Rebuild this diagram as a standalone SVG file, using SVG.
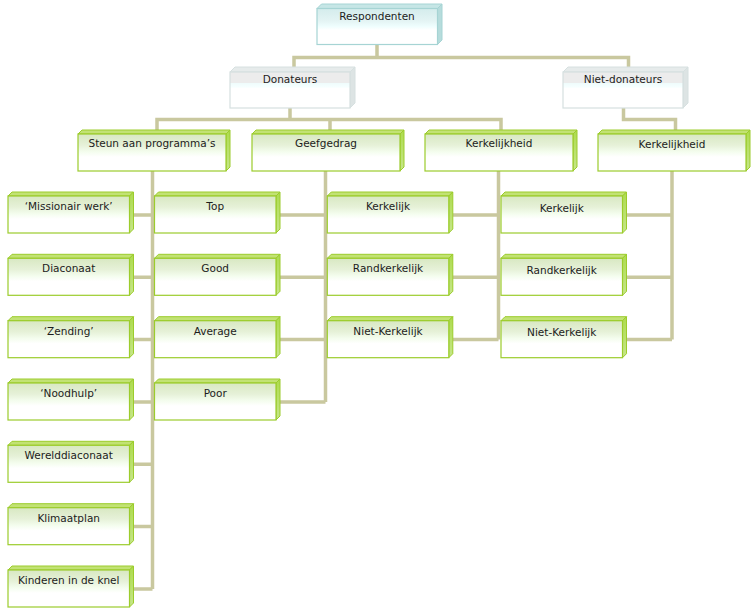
<svg xmlns="http://www.w3.org/2000/svg" xmlns:xlink="http://www.w3.org/1999/xlink" width="755" height="611" viewBox="0 0 755 611">
<style>
text{font-family:"DejaVu Sans","Verdana",sans-serif;font-size:10.5px;fill:#1c1c1c;text-anchor:middle}
.g-f{fill:url(#gfront);stroke:#9ccc2c;stroke-width:1.2}
.g-t{fill:#c2e274;stroke:#9ccc2c;stroke-width:1}
.g-s{fill:url(#gside);stroke:#9ccc2c;stroke-width:1}
.y-f{fill:url(#yfront);stroke:#d6e0e0;stroke-width:1.2}
.y-t{fill:#e6ebeb;stroke:#d6e0e0;stroke-width:1}
.y-s{fill:#dde4e4;stroke:#d6e0e0;stroke-width:1}
.c-f{fill:url(#cfront);stroke:#a6d4d4;stroke-width:1.2}
.c-t{fill:#c6e6e6;stroke:#a6d4d4;stroke-width:1}
.c-s{fill:#b6dcdc;stroke:#a6d4d4;stroke-width:1}
.conn{fill:none;stroke:#c9c89f;stroke-width:3.5;stroke-linejoin:miter}
</style>
<defs>
<linearGradient id="gfront" x1="0" y1="0" x2="0" y2="1">
<stop offset="0" stop-color="#d8e8c2"/>
<stop offset="0.3" stop-color="#e6f1d8"/>
<stop offset="0.48" stop-color="#f4fdee"/>
<stop offset="0.62" stop-color="#ffffff"/>
<stop offset="1" stop-color="#ffffff"/>
</linearGradient>
<linearGradient id="gside" x1="0" y1="0" x2="0" y2="1">
<stop offset="0" stop-color="#addb4e"/>
<stop offset="1" stop-color="#c6e68a"/>
</linearGradient>
<linearGradient id="yfront" x1="0" y1="0" x2="0" y2="1">
<stop offset="0" stop-color="#ececec"/>
<stop offset="0.3" stop-color="#ececec"/>
<stop offset="0.31" stop-color="#effcfc"/>
<stop offset="0.42" stop-color="#f6ffff"/>
<stop offset="0.45" stop-color="#ffffff"/>
<stop offset="1" stop-color="#ffffff"/>
</linearGradient>
<linearGradient id="cfront" x1="0" y1="0" x2="0" y2="1">
<stop offset="0" stop-color="#d4ecec"/>
<stop offset="0.35" stop-color="#e4f4f4"/>
<stop offset="0.5" stop-color="#effefe"/>
<stop offset="0.6" stop-color="#ffffff"/>
<stop offset="1" stop-color="#ffffff"/>
</linearGradient>
<g id="cbox">
<polygon class="g-t" points="0,0 4,-4 125.5,-4 121.5,0"/>
<polygon class="g-s" points="121.5,0 125.5,-4 125.5,33 121.5,37"/>
<rect class="g-f" x="0" y="0" width="121.5" height="37"/>
</g>
<g id="hbox">
<polygon class="g-t" points="0,0 4,-4 152,-4 148,0"/>
<polygon class="g-s" points="148,0 152,-4 152,33 148,37"/>
<rect class="g-f" x="0" y="0" width="148" height="37"/>
</g>
<g id="ybox">
<polygon class="y-t" points="0,0 5,-5 125,-5 120,0"/>
<polygon class="y-s" points="120,0 125,-5 125,31 120,36"/>
<rect class="y-f" x="0" y="0" width="120" height="36"/>
</g>
</defs>

<g id="connectors">
<path class="conn" d="M377,44.5 V57.5 M294,67 V57.5 H628.5 V67"/>
<path class="conn" d="M290,108 V119.5 M157,130 V119.5 H501 V130 M330,119.5 V130"/>
<path class="conn" d="M623.5,108 V119.5 H675.5 V130"/>
<path class="conn" d="M152.5,171 V589 M133,215 H152.5 M133,277.3 H152.5 M133,339.6 H152.5 M133,402 H152.5 M133,464.3 H152.5 M133,526.6 H152.5 M133,589 H152.5"/>
<path class="conn" d="M325.5,171 V402 M280,215 H325.5 M280,277.3 H325.5 M280,339.6 H325.5 M280,402 H325.5"/>
<path class="conn" d="M498.5,171 V339.6 M453,215 H498.5 M453,277.3 H498.5 M453,339.6 H498.5"/>
<path class="conn" d="M672,171 V339.6 M626.5,215 H672 M626.5,277.3 H672 M626.5,339.6 H672"/>
</g>

<g id="n-respondenten">
<polygon class="c-t" points="317,8.5 321.5,4 442,4 437.5,8.5"/>
<polygon class="c-s" points="437.5,8.5 442,4 442,40 437.5,44.5"/>
<rect class="c-f" x="317" y="8.5" width="120.5" height="36"/>
<text x="377" y="20">Respondenten</text>
</g>
<g id="n-donateurs"><use xlink:href="#ybox" transform="translate(230,72)"/><text x="290" y="82.5">Donateurs</text></g>
<g id="n-nietdonateurs"><use xlink:href="#ybox" transform="translate(563,72)"/><text x="623" y="83">Niet-donateurs</text></g>

<g id="n-steun"><use xlink:href="#hbox" transform="translate(78,134)"/><text x="152" y="147">Steun aan programma’s</text></g>
<g id="n-geefgedrag"><use xlink:href="#hbox" transform="translate(252,134)"/><text x="326" y="147">Geefgedrag</text></g>
<g id="n-kerkelijkheid1"><use xlink:href="#hbox" transform="translate(425,134)"/><text x="499" y="147">Kerkelijkheid</text></g>
<g id="n-kerkelijkheid2"><use xlink:href="#hbox" transform="translate(598,134)"/><text x="672" y="148">Kerkelijkheid</text></g>

<g id="n-missionair"><use xlink:href="#cbox" transform="translate(8,196)"/><text x="68.7" y="210">‘Missionair werk’</text></g>
<g id="n-diaconaat"><use xlink:href="#cbox" transform="translate(8,258.3)"/><text x="68.7" y="272.3">Diaconaat</text></g>
<g id="n-zending"><use xlink:href="#cbox" transform="translate(8,320.7)"/><text x="68.7" y="334.7">‘Zending’</text></g>
<g id="n-noodhulp"><use xlink:href="#cbox" transform="translate(8,383)"/><text x="68.7" y="397">‘Noodhulp’</text></g>
<g id="n-werelddiaconaat"><use xlink:href="#cbox" transform="translate(8,445.3)"/><text x="68.7" y="459.3">Werelddiaconaat</text></g>
<g id="n-klimaatplan"><use xlink:href="#cbox" transform="translate(8,507.7)"/><text x="68.7" y="521.7">Klimaatplan</text></g>
<g id="n-kinderen"><use xlink:href="#cbox" transform="translate(8,570)"/><text x="68.7" y="584">Kinderen in de knel</text></g>

<g id="n-top"><use xlink:href="#cbox" transform="translate(154.5,196)"/><text x="215.2" y="210">Top</text></g>
<g id="n-good"><use xlink:href="#cbox" transform="translate(154.5,258.3)"/><text x="215.2" y="272.3">Good</text></g>
<g id="n-average"><use xlink:href="#cbox" transform="translate(154.5,320.7)"/><text x="215.2" y="334.7">Average</text></g>
<g id="n-poor"><use xlink:href="#cbox" transform="translate(154.5,383)"/><text x="215.2" y="397">Poor</text></g>

<g id="n-kerkelijk1"><use xlink:href="#cbox" transform="translate(327.3,196)"/><text x="388" y="210">Kerkelijk</text></g>
<g id="n-randkerkelijk1"><use xlink:href="#cbox" transform="translate(327.3,258.3)"/><text x="388" y="272.3">Randkerkelijk</text></g>
<g id="n-nietkerkelijk1"><use xlink:href="#cbox" transform="translate(327.3,320.7)"/><text x="388" y="334.7">Niet-Kerkelijk</text></g>

<g id="n-kerkelijk2"><use xlink:href="#cbox" transform="translate(501,196)"/><text x="561.7" y="211.5">Kerkelijk</text></g>
<g id="n-randkerkelijk2"><use xlink:href="#cbox" transform="translate(501,258.3)"/><text x="561.7" y="273.8">Randkerkelijk</text></g>
<g id="n-nietkerkelijk2"><use xlink:href="#cbox" transform="translate(501,320.7)"/><text x="561.7" y="336.2">Niet-Kerkelijk</text></g>
</svg>
